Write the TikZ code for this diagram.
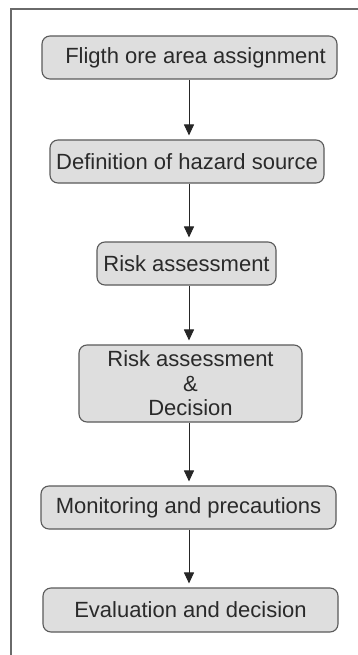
\documentclass[tikz,border=0pt]{standalone}
\usepackage{fontspec}
\setmainfont{Liberation Sans}
\usetikzlibrary{arrows.meta}
\definecolor{boxfill}{HTML}{DEDEDE}
\definecolor{boxline}{HTML}{5A5A5A}
\definecolor{txt}{HTML}{2A2A2A}
\definecolor{framec}{HTML}{6A6A6A}
\begin{document}
\begin{tikzpicture}[x=1pt,y=-1pt,
  stepbox/.style={draw=boxline,fill=boxfill,line width=1.1pt,rounded corners=8pt,
    inner sep=0pt,align=center,text=txt,font=\fontsize{22}{24.5}\selectfont},
  flowarrow/.style={draw=black!85,line width=1pt,-{Triangle[width=10pt,length=11pt]},shorten >=4pt}]
\useasboundingbox (0,0) rectangle (358,655);
\fill[white] (0,0) rectangle (358,655);
\draw[framec,line width=1.3pt] (360,9) -- (11,9) -- (11,657);
\node[stepbox,minimum width=295pt,minimum height=43pt] (b1) at (189.5,57.5) {\hspace{12pt}Fligth ore area assignment};
\node[stepbox,minimum width=274pt,minimum height=43pt] (b2) at (187,161.5) {Definition of hazard source};
\node[stepbox,minimum width=179pt,minimum height=43pt] (b3) at (186.5,263.5) {Risk assessment};
\node[stepbox,minimum width=223pt,minimum height=77pt] (b4) at (190.5,383.5) {Risk assessment\\\&\\Decision};
\node[stepbox,minimum width=295pt,minimum height=43pt] (b5) at (188.5,507.5) {Monitoring and precautions};
\node[stepbox,minimum width=295pt,minimum height=44pt] (b6) at (190.5,610) {Evaluation and decision};
\coordinate (col) at (189,0);
\draw[flowarrow] (b1.south -| col) -- (b2.north -| col);
\draw[flowarrow] (b2.south -| col) -- (b3.north -| col);
\draw[flowarrow] (b3.south -| col) -- (b4.north -| col);
\draw[flowarrow] (b4.south -| col) -- (b5.north -| col);
\draw[flowarrow] (b5.south -| col) -- (b6.north -| col);
\end{tikzpicture}
\end{document}
